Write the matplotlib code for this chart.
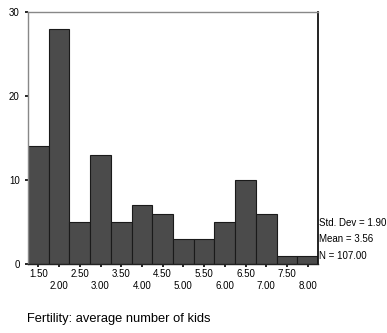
import numpy as np
import matplotlib.pyplot as plt

plt.rcParams['font.family'] = ['Liberation Sans', 'DejaVu Sans']

# histogram bins (midpoints) and counts
bin_mids = [1.5, 2.0, 2.5, 3.0, 3.5, 4.0, 4.5, 5.0, 5.5, 6.0, 6.5, 7.0, 7.5, 8.0]
counts = [14, 28, 5, 13, 5, 7, 6, 3, 3, 5, 10, 6, 1, 1]
tick_labels = ['%.2f' % v for v in bin_mids]
y_ticks = [0, 10, 20, 30]
stats = ['Std. Dev = 1.90', 'Mean = 3.56', 'N = 107.00']
xlabel = 'Fertility: average number of kids'

fig = plt.figure(figsize=(3.87, 3.33), dpi=100)
ax = fig.add_axes([0.0724, 0.2072, 0.7494, 0.7568])

ax.bar(bin_mids, counts, width=0.5, color='#4b4b4b', edgecolor='#1a1a1a', linewidth=0.8)
ax.set_xlim(1.25, 8.25)
ax.set_ylim(0, 30)

ax.set_yticks(y_ticks)
ax.set_yticklabels([str(v) for v in y_ticks], fontsize=7)
ax.tick_params(axis='y', length=2, width=1.2, pad=4, color='black')

ax.set_xticks(bin_mids)
ax.set_xticklabels([])
ax.tick_params(axis='x', length=2, width=1.2, color='black')
for i, (m, lab) in enumerate(zip(bin_mids, tick_labels)):
    dy = -0.04 if i % 2 == 0 else -0.088
    ax.text(m, dy, lab, transform=ax.get_xaxis_transform(), ha='center', va='center', fontsize=7)

ax.spines['top'].set_color('#888888')
ax.spines['left'].set_color('#888888')
ax.spines['right'].set_color('#111111')
ax.spines['bottom'].set_color('#222222')
for s in ax.spines.values():
    s.set_linewidth(1.0)
ax.spines['right'].set_linewidth(1.3)

for j, s in enumerate(stats):
    fig.text(319 / 387, 1 - (223 + 16.5 * j) / 333, s, ha='left', va='center', fontsize=7)

fig.text(27 / 387, 1 - 319 / 333, xlabel, ha='left', va='center', fontsize=9.3)

fig.savefig('out.png', dpi=100)
